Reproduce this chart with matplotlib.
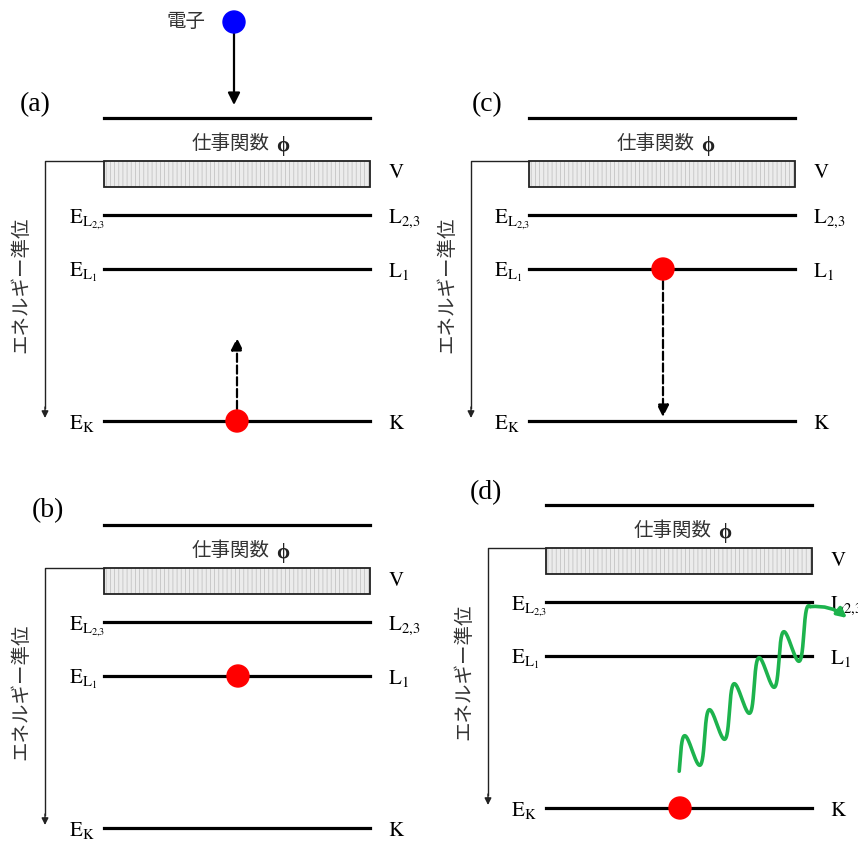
import numpy as np
import matplotlib
matplotlib.use("Agg")
import matplotlib.pyplot as plt
from matplotlib.patches import Rectangle, Circle, FancyArrowPatch

plt.rcParams['font.family'] = ['Liberation Serif', 'Noto Sans CJK JP']
plt.rcParams['mathtext.fontset'] = 'stix'
plt.rcParams['hatch.linewidth'] = 0.6

# 各パネルの配置 (ピクセル座標)
paneles = ['(a)', '(b)', '(c)', '(d)']
x_izq = [104, 104, 529, 546]
y_sup = [118, 525, 118, 505]
x_eje = [45, 45, 471, 488]
pos_etiqueta = [(20, 105), (32, 511), (472, 105), (470, 493)]
ancho = 266

# niveles de energía relativos a la línea superior
caja_v = (43, 69)
niveles = [97, 151, 303]
etiquetas_izq = [r'$\mathrm{E_{L_{2{,}3}}}$', r'$\mathrm{E_{L_1}}$', r'$\mathrm{E_K}$']
etiquetas_der = [r'$\mathrm{L_{2{,}3}}$', r'$\mathrm{L_1}$', r'$\mathrm{K}$']

# electrones: (panel, nivel, x relativo)
huecos = [(0, 2, 133), (1, 1, 134), (2, 1, 134), (3, 2, 134)]
electron_in = (234, 22)

# onda de rayos X en (d): eje entre la primera y la última cresta
onda_ini = (686, 757)
onda_fin = (810, 627)
onda_ciclos = 5
onda_amp = 21
onda_dir = (0.1, 0.995)
onda_punta = (847, 618)

fig = plt.figure(figsize=(8.58, 8.42), dpi=100)
ax = fig.add_axes([0, 0, 1, 1])
ax.set_xlim(0, 858)
ax.set_ylim(842, 0)
ax.axis('off')


def flecha(p0, p1, estilo='-', color='black', lw=1.6):
    a = FancyArrowPatch(p0, p1, arrowstyle='-|>', mutation_scale=18,
                        color=color, lw=lw, linestyle=estilo,
                        shrinkA=0, shrinkB=0, zorder=4)
    ax.add_patch(a)


for i in range(4):
    x0, y0, xe = x_izq[i], y_sup[i], x_eje[i]
    ax.text(*pos_etiqueta[i], paneles[i], fontsize=20, va='center', ha='left')
    # nivel de vacío
    ax.plot([x0, x0 + ancho], [y0, y0], color='black', lw=2.3)
    ax.text(x0 + ancho / 2 - 6, y0 + 26, '仕事関数', fontsize=14,
            ha='center', va='center', color='#333333')
    ax.text(x0 + ancho / 2 + 46, y0 + 28, '\u03d5', fontsize=15,
            ha='center', va='center', color='#222222', fontweight='bold')
    # banda de valencia
    ax.add_patch(Rectangle((x0, y0 + caja_v[0]), ancho, caja_v[1] - caja_v[0],
                           facecolor='#ececec', edgecolor='#c4c4c4',
                           hatch='||||', lw=0))
    ax.add_patch(Rectangle((x0, y0 + caja_v[0]), ancho, caja_v[1] - caja_v[0],
                           fill=False, edgecolor='#222222', lw=1.3))
    ax.text(x0 + 284, y0 + (caja_v[0] + caja_v[1]) / 2, r'$\mathrm{V}$',
            fontsize=15, va='center', ha='left')
    # eje de energía
    ax.plot([x0, xe, xe], [y0 + caja_v[0], y0 + caja_v[0], y0 + 290],
            color='#222222', lw=1.0)
    ax.annotate('', xy=(xe, y0 + 300), xytext=(xe, y0 + 289),
                arrowprops=dict(arrowstyle='-|>', color='#222222', lw=1.0,
                                mutation_scale=10, shrinkA=0, shrinkB=0))
    ax.text(xe - 24, y0 + 167, 'エネルギー準位', rotation=90, fontsize=14,
            ha='center', va='center', color='#333333')
    for lv, li, ld in zip(niveles, etiquetas_izq, etiquetas_der):
        y = y0 + lv
        ax.plot([x0, x0 + ancho], [y, y], color='black', lw=2.3)
        ax.text(x0 - 35, y + 8, li, fontsize=15, va='baseline', ha='left')
        ax.text(x0 + 284, y + 8, ld, fontsize=15, va='baseline', ha='left')

# electrones / huecos
for p, n, dx in huecos:
    cx = x_izq[p] + dx
    cy = y_sup[p] + niveles[n]
    ax.add_patch(Circle((cx, cy), 11, color='#ff0000', zorder=5))

# electrón incidente
ax.add_patch(Circle(electron_in, 11, color='#0000ff', zorder=5))
ax.text(electron_in[0] - 48, electron_in[1], '電子', fontsize=14,
        ha='center', va='center', color='#333333')
flecha((electron_in[0], electron_in[1] + 11), (electron_in[0], 105))

# (a) excitación del electrón K
flecha((237, 409), (237, 338), estilo='--')
# (c) transición L1 -> K
flecha((663, 281), (663, 417), estilo='--')

# (d) rayos X característicos
p_ini = np.array(onda_ini, dtype=float)
p_fin = np.array(onda_fin, dtype=float)
d = p_fin - p_ini
lam = np.hypot(*d) / onda_ciclos
u = d / np.hypot(*d)
v = np.array(onda_dir)
t = np.linspace(-0.3 * lam, (onda_ciclos + 0.08) * lam, 800)
off = -onda_amp * np.cos(2 * np.pi * t / lam)
pts = p_ini + np.outer(t, u) + np.outer(off, v)
ax.plot(pts[:, 0], pts[:, 1], color='#1db34d', lw=2.6, zorder=6,
        solid_capstyle='round', solid_joinstyle='round')
ax.annotate('', xy=onda_punta, xytext=pts[-1],
            arrowprops=dict(arrowstyle='-|>', color='#1db34d', lw=2.6,
                            mutation_scale=14, shrinkA=0, shrinkB=0,
                            connectionstyle='arc3,rad=-0.2'), zorder=6)

fig.savefig('out.png', dpi=100)
